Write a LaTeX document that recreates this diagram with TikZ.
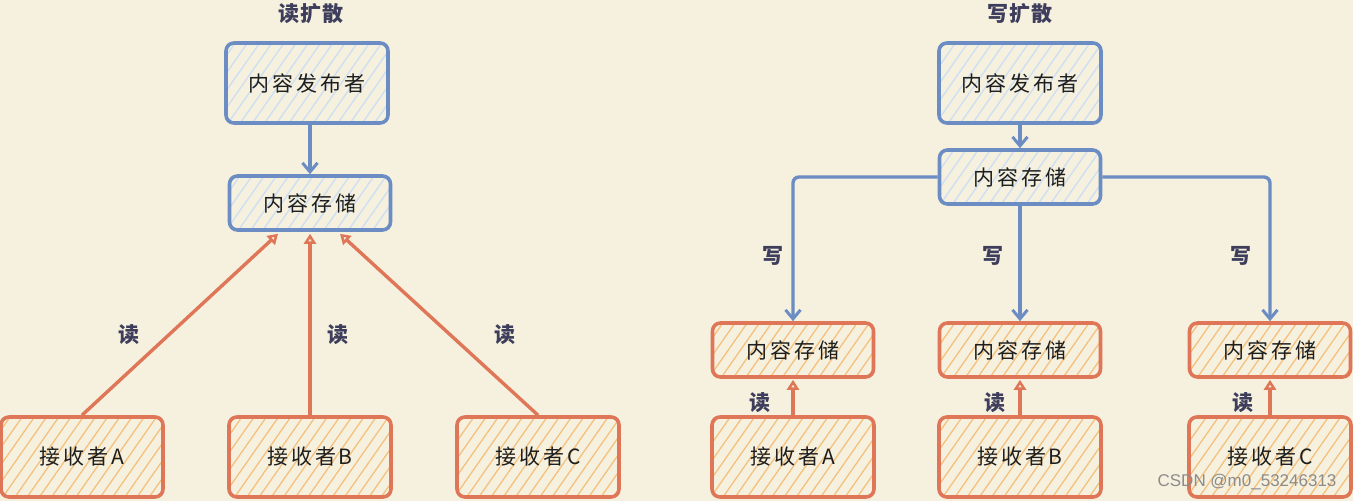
\documentclass[tikz,border=0pt]{standalone}
\usepackage{fontspec}
\newfontfamily\cjk{Noto Sans CJK SC}
\newfontfamily\wm{Liberation Sans}
\usetikzlibrary{patterns.meta,arrows.meta}
\definecolor{bgc}{RGB}{245,241,222}
\definecolor{blu}{RGB}{108,140,196}
\definecolor{hblu}{RGB}{205,222,244}
\definecolor{org}{RGB}{224,118,88}
\definecolor{horg}{RGB}{245,192,125}
\definecolor{ink}{RGB}{30,30,30}
\definecolor{lab}{RGB}{62,62,92}
\tikzset{
  boxbase/.style={rounded corners=8pt, line width=3.6pt, inner sep=0pt,
    font={\cjk\fontsize{21}{24}\selectfont\addfontfeature{LetterSpace=14}}, text=ink,
    preaction={fill=bgc}},
  bluebox/.style={boxbase, draw=blu,
    preaction={pattern={Lines[angle=55,distance=10pt,line width=1.3pt]}, pattern color=hblu}},
  orgbox/.style={boxbase, draw=org,
    preaction={pattern={Lines[angle=55,distance=10pt,line width=1.3pt]}, pattern color=horg}},
  bigbox/.style={minimum width=162pt, minimum height=80pt},
  smallbox/.style={minimum width=161pt, minimum height=54pt},
  barrow/.style={draw=blu, line width=3.4pt, -{Straight Barb[length=9pt,width=15pt,line width=3pt]}},
  oarrow/.style={draw=org, line width=3.4pt, -{Triangle[open,length=10pt,width=12pt,line width=2.8pt]}},
  lbl/.style={font={\cjk\bfseries\fontsize{21}{24}\selectfont}, text=lab},
  ttl/.style={font={\cjk\bfseries\fontsize{21}{24}\selectfont\addfontfeature{LetterSpace=6}}, text=lab}
}
\begin{document}
\begin{tikzpicture}[x=1pt,y=-1pt]
\fill[bgc] (0,0) rectangle (1353,501);
\useasboundingbox (0,0) rectangle (1353,501);
% ---------- left: read diffusion ----------
\node[ttl] (t1) at (311,14) {读扩散};
\node[bluebox,bigbox] (pub1) at (307,83) {内容发布者};
\node[bluebox,smallbox] (st1) at (310,203) {内容存储};
\node[orgbox,bigbox] (rA1) at (82,457) {接收者A};
\node[orgbox,bigbox] (rB1) at (310,457) {接收者B};
\node[orgbox,bigbox] (rC1) at (538,457) {接收者C};
\draw[barrow] (pub1.south -| st1.north) -- (st1.north);
\draw[oarrow] (rA1.north) -- ([xshift=-32pt,yshift=-2pt]st1.south);
\draw[oarrow] (rB1.north) -- ([yshift=-2pt]st1.south);
\draw[oarrow] (rC1.north) -- ([xshift=30pt,yshift=-2pt]st1.south);
\node[lbl] (l1) at (129,335) {读};
\node[lbl] (l2) at (338,335) {读};
\node[lbl] (l3) at (505,335) {读};
% ---------- right: write diffusion ----------
\node[ttl] (t2) at (1020,14) {写扩散};
\node[bluebox,bigbox] (pub2) at (1020,83) {内容发布者};
\node[bluebox,smallbox] (st2) at (1020,177) {内容存储};
\node[orgbox,smallbox] (sA) at (793,350) {内容存储};
\node[orgbox,smallbox] (sB) at (1020,350) {内容存储};
\node[orgbox,smallbox] (sC) at (1270,350) {内容存储};
\node[orgbox,bigbox] (rA2) at (793,457) {接收者A};
\node[orgbox,bigbox] (rB2) at (1020,457) {接收者B};
\node[orgbox,bigbox] (rC2) at (1270,457) {接收者C};
\draw[barrow] (pub2.south) -- (st2.north);
\draw[barrow, rounded corners=6pt] (st2.west) -| (sA.north);
\draw[barrow] (st2.south) -- (sB.north);
\draw[barrow, rounded corners=6pt] (st2.east) -| (sC.north);
\node[lbl] (w1) at (773,256) {写};
\node[lbl] (w2) at (993,256) {写};
\node[lbl] (w3) at (1241,256) {写};
\draw[oarrow] (rA2.north) -- ([yshift=-1pt]sA.south);
\draw[oarrow] (rB2.north) -- ([yshift=-1pt]sB.south);
\draw[oarrow] (rC2.north) -- ([yshift=-1pt]sC.south);
\node[lbl] (r1) at (760,403) {读};
\node[lbl] (r2) at (995,403) {读};
\node[lbl] (r3) at (1243,403) {读};
% watermark
\node[font={\wm\fontsize{17}{18}\selectfont}, text=black!45, anchor=east] (wm) at (1340,482) {CSDN @m0\_53246313};
\end{tikzpicture}
\end{document}
